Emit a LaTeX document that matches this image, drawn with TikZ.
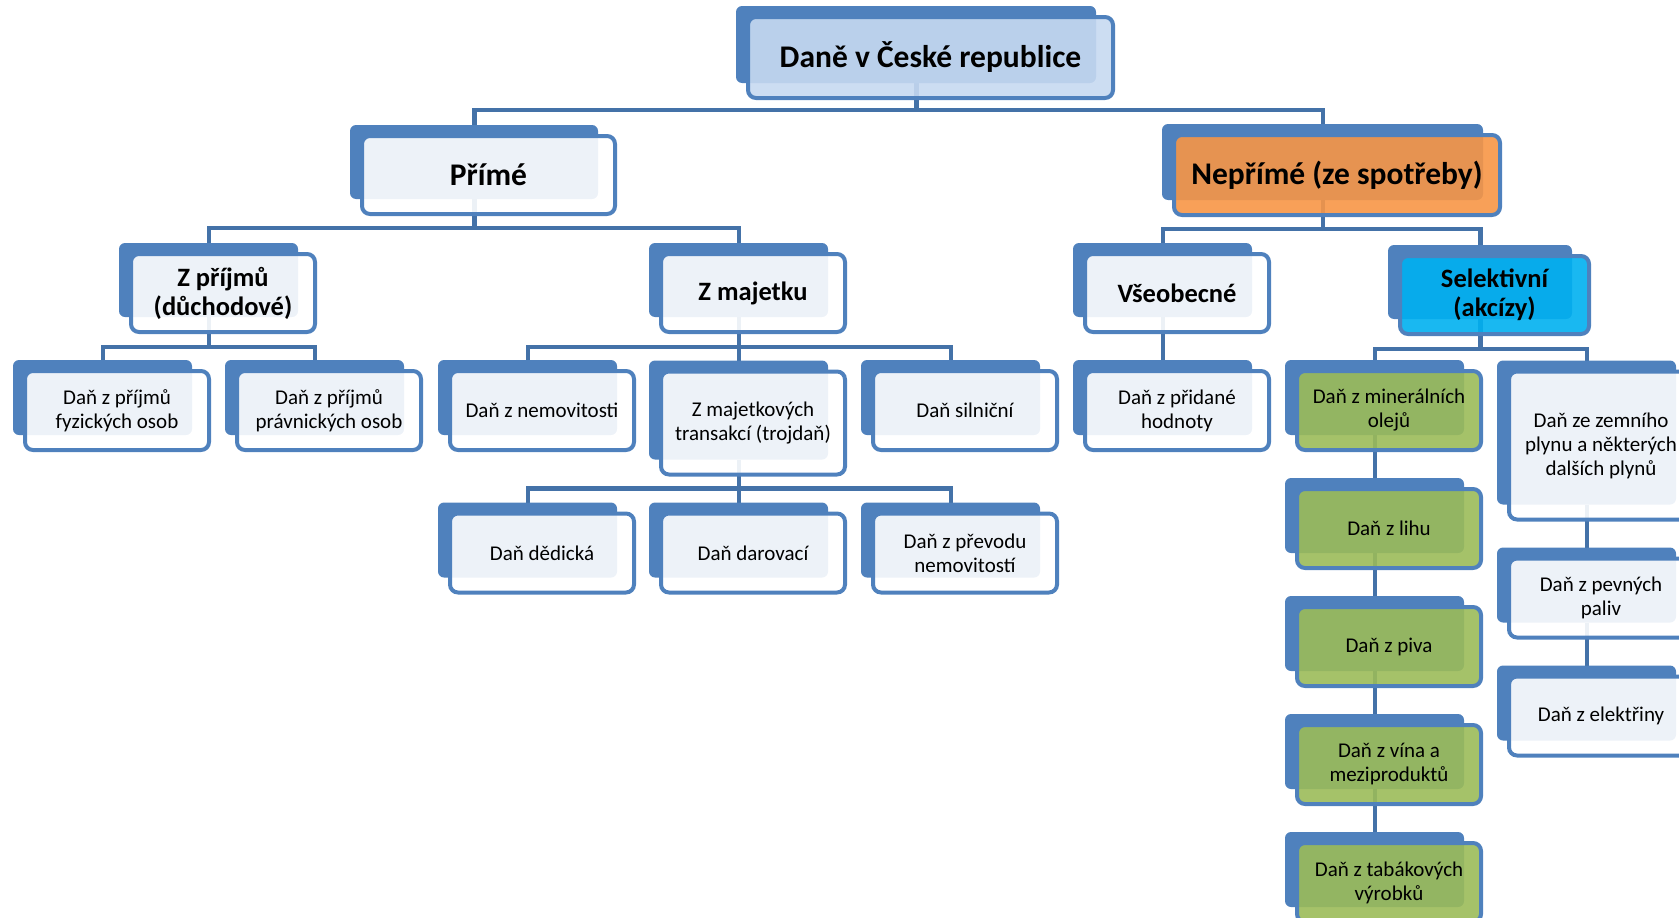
\documentclass[tikz,border=0pt]{standalone}
\usepackage{fontspec}
\setmainfont{Carlito}
\usepackage{tikz}
\usepackage{xcolor}
\usetikzlibrary{positioning, calc, backgrounds}

\definecolor{boxblue}{RGB}{79,129,189}
\definecolor{linkblue}{RGB}{68,114,168}
\definecolor{topfill}{RGB}{198,217,241}
\definecolor{orangefill}{RGB}{247,150,70}
\definecolor{cyanfill}{RGB}{0,176,240}
\definecolor{greenfill}{RGB}{155,187,89}

\newcommand{\headfont}{\fontsize{31.5}{36}\selectfont\bfseries}
\newcommand{\midfont}{\fontsize{26.5}{29}\selectfont\bfseries}
\newcommand{\leaffont}{\fontsize{21}{24}\selectfont}

\begin{document}
\begin{tikzpicture}[
    x=1pt, y=-1pt,
    node distance=39pt and 28pt,
    taxbox/.style={draw=boxblue, line width=4pt, rounded corners=8pt, fill=white, fill opacity=0.9, text opacity=1, align=center, inner sep=2pt, outer sep=0pt, minimum width=184pt, minimum height=79pt, font=\leaffont},
    rootbox/.style={taxbox, font=\headfont, minimum height=80pt},
    groupbox/.style={taxbox, font=\midfont, minimum height=78pt},
    excisebox/.style={taxbox, fill=greenfill},
    linkline/.style={draw=linkblue, line width=4.5pt},
    backrect/.style={fill=boxblue, rounded corners=6pt}
]
    \useasboundingbox (0,0) rectangle (1679,918);
    \clip (0,0) rectangle (1679,918);

    % Root
    \node (top) [rootbox, fill=topfill, minimum width=365pt, minimum height=81pt] at (930.5,57.5) {Daně v České republice};

    % Direct / indirect
    \node (prime) [rootbox, minimum width=253pt, minimum height=78pt] at (488.5,175) {Přímé};
    \node (indirect) [rootbox, fill=orangefill, minimum width=326pt] at (1337,175) {Nepřímé (ze spotřeby)};

    % Groups
    \node (income) [groupbox] at (223,293) {Z příjmů\\(důchodové)};
    \node (property) [groupbox] at (753,293) {Z majetku};
    \node (general) [groupbox] at (1177,293) {Všeobecné};
    \node (selective) [groupbox, fill=cyanfill, minimum width=189pt] at (1494.5,295) {Selektivní\\(akcízy)};

    % Taxes
    \node (natural) [taxbox] at (117,410.5) {Daň z příjmů\\fyzických osob};
    \node (legal) [taxbox, right=of natural] {Daň z příjmů\\právnických osob};
    \node (realty) [taxbox] at (542,410.5) {Daň z nemovitosti};
    \node (transfer) [taxbox, minimum height=103pt] at (753,423) {Z majetkových\\transakcí (trojdaň)};
    \node (road) [taxbox] at (965,410.5) {Daň silniční};
    \node (vat) [taxbox] at (1177,410.5) {Daň z přidané\\hodnoty};

    \node (gift) [taxbox, below=of transfer] {Daň darovací};
    \node (inherit) [taxbox] at (542,553) {Daň dědická};
    \node (land) [taxbox] at (965,553) {Daň z převodu\\nemovitostí};

    \node (mineral) [excisebox] at (1389,410.5) {Daň z minerálních\\olejů};
    \node (spirits) [excisebox, below=of mineral] {Daň z lihu};
    \node (beer) [excisebox, below=of spirits] {Daň z piva};
    \node (wine) [excisebox, below=of beer] {Daň z vína a\\meziproduktů};
    \node (tobacco) [excisebox, below=of wine] {Daň z tabákových\\výrobků};

    \node (gas) [taxbox, minimum height=148pt] at (1601,445.5) {Daň ze zemního\\plynu a některých\\dalších plynů};
    \node (solid) [taxbox, below=of gas] {Daň z pevných\\paliv};
    \node (power) [taxbox, below=of solid] {Daň z elektřiny};

    \begin{pgfonlayer}{background}
        % Connectors
        \foreach \c in {prime,indirect}
            \draw[linkline] ($(top.south)+(-14,-15)$) -- ++(0,27) -| ($(\c.north)+(-14,-11)$);
        \foreach \c in {income,property}
            \draw[linkline] ($(prime.south)+(-14,-15)$) -- ++(0,29) -| ($(\c.north)+(-14,-11)$);
        \foreach \c in {general,selective}
            \draw[linkline] ($(indirect.south)+(-14,-15)$) -- ++(0,29) -| ($(\c.north)+(-14,-11)$);
        \foreach \c in {natural,legal}
            \draw[linkline] ($(income.south)+(-14,-15)$) -- ++(0,30) -| ($(\c.north)+(-14,-11)$);
        \foreach \c in {realty,transfer,road}
            \draw[linkline] ($(property.south)+(-14,-15)$) -- ++(0,30) -| ($(\c.north)+(-14,-11)$);
        \foreach \c in {inherit,gift,land}
            \draw[linkline] ($(transfer.south)+(-14,-15)$) -- ++(0,29) -| ($(\c.north)+(-14,-11)$);
        \foreach \c in {mineral,gas}
            \draw[linkline] ($(selective.south)+(-14,-15)$) -- ++(0,30) -| ($(\c.north)+(-14,-11)$);
        \foreach \a/\b in {general/vat, mineral/spirits, spirits/beer, beer/wine, wine/tobacco, gas/solid, solid/power}
            \draw[linkline] ($(\a.south)+(-14,-15)$) -- ($(\b.north)+(-14,-11)$);

        % Back plates
        \foreach \n in {top,prime,indirect,income,property,general,selective,natural,legal,realty,transfer,road,vat,inherit,gift,land,mineral,spirits,beer,wine,tobacco,gas,solid,power}
            \fill[backrect] ($(\n.north west)+(-12,-11)$) rectangle ($(\n.south east)+(-17,-15)$);
    \end{pgfonlayer}
\end{tikzpicture}
\end{document}
